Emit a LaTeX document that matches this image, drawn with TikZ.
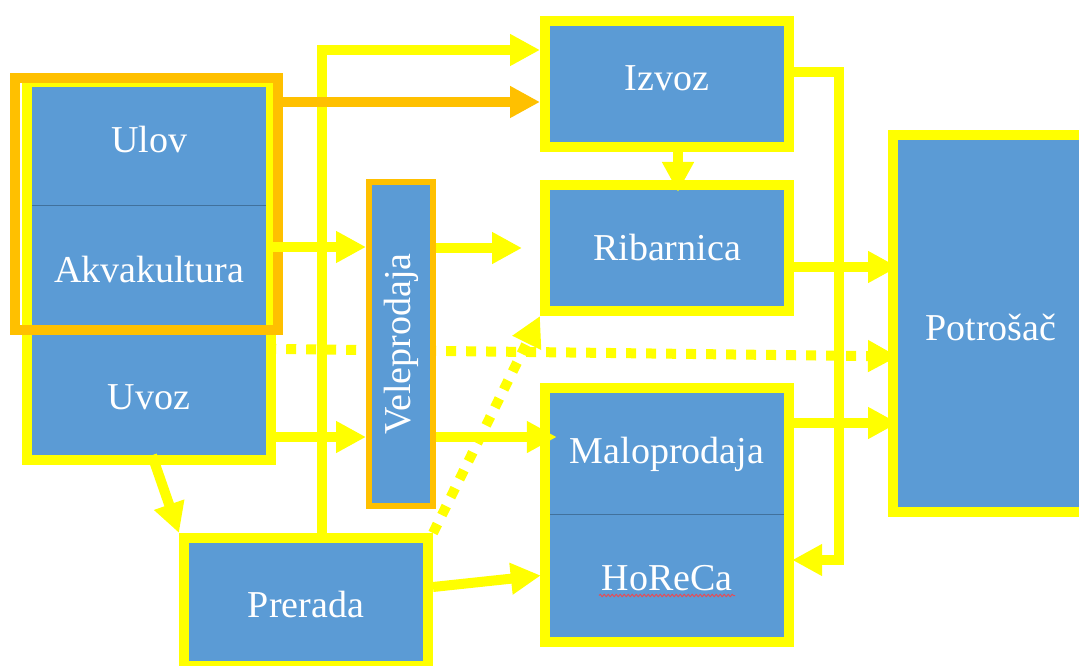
\documentclass[tikz,border=0pt]{standalone}
\usepackage{fontspec}
\setmainfont{Liberation Serif}
\usetikzlibrary{arrows.meta,decorations.pathmorphing}
\definecolor{boxblue}{HTML}{5B9BD5}
\definecolor{lineblue}{HTML}{41719C}
\definecolor{yel}{HTML}{FFFF00}
\definecolor{orng}{HTML}{FFC000}
\definecolor{wavyred}{HTML}{E0505A}
\pgfdeclarelayer{bottom}
\pgfdeclarelayer{dots}
\pgfsetlayers{bottom,dots,main}
\begin{document}
\begin{tikzpicture}[x=1pt, y=-1pt,
    box/.style={fill=boxblue, draw=yel, line width=10pt, text=white,
        font=\fontsize{38}{44}\selectfont, minimum width=244pt, inner sep=0pt,
        text height=25pt, text depth=0pt},
    cell/.style={fill=boxblue, text=white, font=\fontsize{38}{44}\selectfont,
        minimum width=234pt, inner sep=0pt, text height=25pt, text depth=0pt},
    flow/.style={draw=yel, line width=10pt, -{Triangle[length=30pt, width=30pt]}},
    dotflow/.style={flow, dash pattern=on 10pt off 10pt}]
    \useasboundingbox (0,0) rectangle (1079,666);

    % consumer box sits under the arrows
    \begin{pgfonlayer}{bottom}
        \node[box, minimum width=196pt, minimum height=377pt, text height=33pt] (potrosac) at (991,323.5) {Potrošač};
    \end{pgfonlayer}

    % left column
    \node[cell, minimum height=118pt, text height=14pt] (ulov) at (149,146) {Ulov};
    \node[cell, minimum height=120pt, text height=34pt] (akva) at (149,265) {Akvakultura};
    \node[cell, minimum height=130pt, text height=38pt] (uvoz) at (149,390) {Uvoz};
    \draw[lineblue, line width=1.2pt] (ulov.south west) -- (ulov.south east);
    \draw[yel, line width=10pt] ([shift={(-5,-5)}]ulov.north west) rectangle ([shift={(5,5)}]uvoz.south east);
    \draw[orng, line width=10pt] ([shift={(-17,-9)}]ulov.north west) rectangle ([shift={(12,5)}]akva.south east);

    % wholesale
    \node[fill=boxblue, draw=orng, line width=6pt, minimum width=64pt, minimum height=324pt, inner sep=0pt] (velepr) at (401,344) {};
    \node[rotate=90, text=white, font=\fontsize{38}{44}\selectfont] (veletext) at (velepr.center) {Veleprodaja};

    % middle column
    \node[box, minimum height=126pt, text height=14pt] (izvoz) at (667,84) {Izvoz};
    \node[box, minimum height=126pt, text height=24pt] (ribarnica) at (667,248) {Ribarnica};
    \node[cell, minimum height=121pt, text height=19pt] (malo) at (667,453.5) {Maloprodaja};
    \node[cell, minimum height=123pt, text height=29pt] (horeca) at (667,575.5) {HoReCa};
    \draw[lineblue, line width=1.2pt] (malo.south west) -- (malo.south east);
    \draw[yel, line width=10pt] ([shift={(-5,-5)}]malo.north west) rectangle ([shift={(5,5)}]horeca.south east);
    \draw[wavyred, line width=1pt, decorate, decoration={snake, amplitude=1.2pt, segment length=4pt}]
        ([shift={(-68,20)}]horeca.center) -- ++(136,0);

    \node[box, minimum height=128pt, text height=30pt] (prerada) at (306,602) {Prerada};

    % dotted flows
    \begin{pgfonlayer}{dots}
        \draw[dotflow] ([yshift=-24]uvoz.north east) -- ([xshift=10,yshift=-33]potrosac.west);
        \draw[dotflow] (prerada.north east) -- (ribarnica.south west);
    \end{pgfonlayer}

    % flows
    \draw[flow] ([xshift=16]prerada.north) |- ([yshift=34]izvoz.west);
    \draw[flow] ([yshift=18]akva.east) -- ([yshift=97]velepr.west);
    \draw[flow] ([yshift=96]velepr.east) -- ([xshift=-18]ribarnica.west);
    \draw[flow] ([yshift=-47]uvoz.east) -- ([yshift=-93]velepr.west);
    \draw[flow] ([yshift=-93]velepr.east) -- ([xshift=7,yshift=16.5]malo.west);
    \draw[flow] ([xshift=3]uvoz.south) -- (prerada.north west);
    \draw[flow] ([yshift=15]prerada.east) -- ([xshift=-9]horeca.west);
    \draw[flow] ([xshift=11]izvoz.south) -- ([xshift=11,yshift=-12]ribarnica.north);
    \draw[flow] ([yshift=12]izvoz.east) -- ++(45,0) |- ([xshift=8,yshift=15.5]horeca.east);
    \draw[flow] ([yshift=-19]ribarnica.east) -- ([xshift=10,yshift=56.5]potrosac.west);
    \draw[flow] ([yshift=30.5]malo.east) -- ([xshift=10,yshift=-99.5]potrosac.west);
    \draw[flow, draw=orng] ([shift={(12,-44)}]ulov.east) -- ([yshift=-18]izvoz.west);
\end{tikzpicture}
\end{document}
